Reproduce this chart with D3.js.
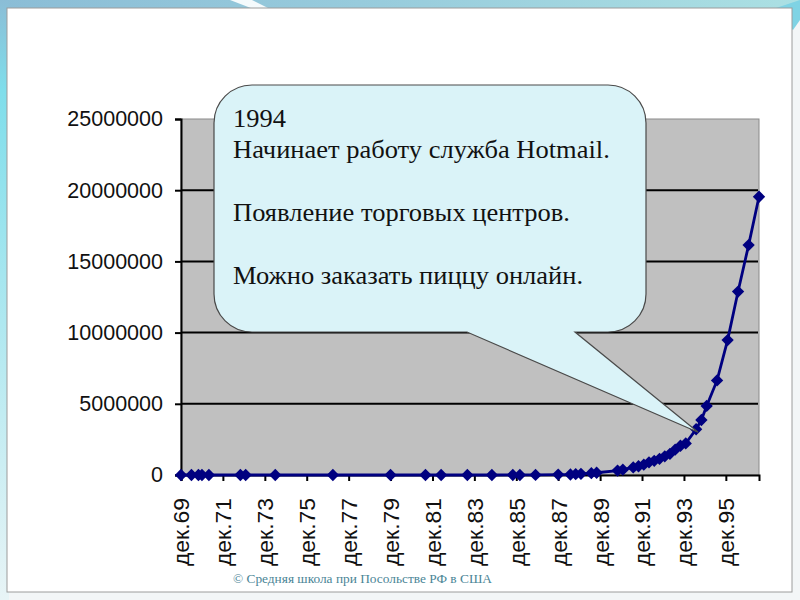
<!DOCTYPE html>
<html>
<head>
<meta charset="utf-8">
<script src="https://cdn.jsdelivr.net/npm/d3@7"></script>
<style>
  body { margin: 0; background: #f3f6f7; }
  svg { display: block; }
</style>
</head>
<body>
<svg width="800" height="600"></svg>
<script>
// Host count survey: month of survey and number of hosts
const months = ["1969-12", "1970-06", "1970-10", "1970-12", "1971-04", "1972-10", "1973-01",
  "1974-06", "1977-03", "1979-12", "1981-08", "1982-05", "1983-08", "1984-10", "1985-10",
  "1986-02", "1986-11", "1987-12", "1988-07", "1988-10", "1989-01", "1989-07", "1989-10",
  "1990-10", "1991-01", "1991-07", "1991-10", "1992-01", "1992-04", "1992-07", "1992-10",
  "1993-01", "1993-04", "1993-07", "1993-10", "1994-01", "1994-07", "1994-10", "1995-01",
  "1995-07", "1996-01", "1996-07", "1997-01", "1997-07"];
const hosts = [4, 9, 11, 13, 23, 31, 35,
  62, 111, 188, 213, 235, 562, 1024, 1961,
  2308, 5089, 28174, 33000, 56000, 80000, 130000, 159000,
  313000, 376000, 535000, 617000, 727000, 890000, 992000, 1136000,
  1313000, 1486000, 1776000, 2056000, 2217000, 3212000, 3864000, 4852000,
  6642000, 9472000, 12881000, 16146000, 19540000];

// axis ticks
const xTickLabels = ["дек.69", "дек.71", "дек.73", "дек.75", "дек.77", "дек.79", "дек.81",
  "дек.83", "дек.85", "дек.87", "дек.89", "дек.91", "дек.93", "дек.95"];
const yTicks = [0, 5000000, 10000000, 15000000, 20000000, 25000000];

// callout text
const calloutLines = ["1994", "Начинает работу служба Hotmail.", "",
  "Появление торговых центров.", "", "Можно заказать пиццу онлайн."];
const calloutAt = "1994-07";
const footer = "© Средняя школа при Посольстве РФ в США";

const parseMonth = d3.timeParse("%Y-%m");
const data = months.map((m, i) => ({ date: parseMonth(m), value: hosts[i] }));
const tickDates = xTickLabels.map(l => new Date(1900 + +l.slice(4), 11, 1));

const svg = d3.select("svg");

// ---- slide background ----
const defs = svg.append("defs");
const topGrad = defs.append("linearGradient").attr("id", "top-grad");
topGrad.append("stop").attr("offset", "0%").attr("stop-color", "#8bbdd6");
topGrad.append("stop").attr("offset", "45%").attr("stop-color", "#97cbdc");
topGrad.append("stop").attr("offset", "100%").attr("stop-color", "#abe0e3");
const leftGrad = defs.append("linearGradient").attr("id", "left-grad")
  .attr("x1", "0%").attr("y1", "0%").attr("x2", "0%").attr("y2", "100%");
leftGrad.append("stop").attr("offset", "0%").attr("stop-color", "#8bbdd6");
leftGrad.append("stop").attr("offset", "15%").attr("stop-color", "#7fdeeb");
leftGrad.append("stop").attr("offset", "100%").attr("stop-color", "#e8f4f6");

svg.append("rect").attr("width", 800).attr("height", 600).attr("fill", "#f3f6f7");
svg.append("rect").attr("width", 800).attr("height", 14).attr("fill", "url(#top-grad)");
svg.append("rect").attr("width", 9).attr("height", 600).attr("fill", "url(#left-grad)");
svg.append("polygon").attr("points", "230,0 252,0 272,10 256,10").attr("fill", "#ffffff").attr("opacity", 0.9);
svg.append("polygon").attr("points", "770,10 800,0 800,20 793,30").attr("fill", "#7fd3e4");

// white panel
svg.append("rect")
  .attr("x", 7).attr("y", 8).attr("width", 785).attr("height", 584)
  .attr("fill", "#ffffff").attr("stroke", "#9c9c9c").attr("stroke-width", 1);

// ---- chart ----
const plotLeft = 181, plotRight = 759, plotTop = 119, plotBottom = 475;

const x = d3.scaleTime()
  .domain([data[0].date, data[data.length - 1].date])
  .range([plotLeft, plotRight]);
const y = d3.scaleLinear()
  .domain([0, 25000000])
  .range([plotBottom, plotTop]);

// plot area
svg.append("rect")
  .attr("x", plotLeft).attr("y", plotTop)
  .attr("width", plotRight - plotLeft).attr("height", plotBottom - plotTop)
  .attr("fill", "#c0c0c0").attr("stroke", "#8a8a8a").attr("stroke-width", 1);

// gridlines
svg.append("g")
  .selectAll("line")
  .data(yTicks.filter(v => v > 0 && v < 25000000))
  .join("line")
  .attr("x1", plotLeft).attr("x2", plotRight - 1)
  .attr("y1", d => y(d)).attr("y2", d => y(d))
  .attr("stroke", "#000").attr("stroke-width", 2);

// y axis
const yAxis = svg.append("g")
  .attr("transform", `translate(${plotLeft},0)`)
  .call(d3.axisLeft(y).tickValues(yTicks).tickFormat(d3.format("d")).tickSizeOuter(0).tickSize(6).tickPadding(12));
yAxis.select(".domain").attr("stroke", "#000").attr("stroke-width", 2);
yAxis.selectAll(".tick line").attr("stroke", "#000").attr("stroke-width", 2);
yAxis.selectAll("text")
  .attr("font-family", "'Liberation Sans', Arial, sans-serif")
  .attr("font-size", 21.5).attr("fill", "#111");

// x axis
const xAxis = svg.append("g")
  .attr("transform", `translate(0,${plotBottom})`)
  .call(d3.axisBottom(x).tickValues(tickDates).tickFormat((d, i) => xTickLabels[i]).tickSizeOuter(0).tickSize(6));
xAxis.select(".domain").attr("stroke", "#000").attr("stroke-width", 2);
xAxis.selectAll(".tick line").attr("stroke", "#000").attr("stroke-width", 2);
xAxis.selectAll("text")
  .attr("font-family", "'Liberation Sans', Arial, sans-serif")
  .attr("font-size", 22).attr("fill", "#111")
  .attr("transform", "rotate(-90)")
  .attr("text-anchor", "end")
  .attr("textLength", 68)
  .attr("lengthAdjust", "spacingAndGlyphs")
  .attr("x", -23).attr("y", 0).attr("dy", "0.36em");

// series line
svg.append("path")
  .datum(data)
  .attr("fill", "none")
  .attr("stroke", "#000080")
  .attr("stroke-width", 2.8)
  .attr("d", d3.line().x(d => x(d.date)).y(d => y(d.value)));

// diamond markers
const diamond = d3.symbol(d3.symbolSquare, 76);
svg.append("g")
  .selectAll("path")
  .data(data)
  .join("path")
  .attr("d", diamond)
  .attr("transform", d => `translate(${x(d.date)},${y(d.value)}) rotate(45)`)
  .attr("fill", "#000080");

// ---- callout ----
const tipPoint = data.find(d => d3.timeFormat("%Y-%m")(d.date) === calloutAt);
const tx = x(tipPoint.date) + 2, ty = y(tipPoint.value) + 3;
const bx0 = 214, by0 = 85, bx1 = 646, by1 = 332, r = 38;
const tailA = 575, tailB = 467;
const callout = d3.path();
callout.moveTo(bx0 + r, by0);
callout.lineTo(bx1 - r, by0);
callout.arcTo(bx1, by0, bx1, by0 + r, r);
callout.lineTo(bx1, by1 - r);
callout.arcTo(bx1, by1, bx1 - r, by1, r);
callout.lineTo(tailA, by1);
callout.lineTo(tx, ty);
callout.lineTo(tailB, by1);
callout.lineTo(bx0 + r, by1);
callout.arcTo(bx0, by1, bx0, by1 - r, r);
callout.lineTo(bx0, by0 + r);
callout.arcTo(bx0, by0, bx0 + r, by0, r);
callout.closePath();

svg.append("path")
  .attr("d", callout.toString())
  .attr("fill", "#daf3f8")
  .attr("stroke", "#4a4a4a")
  .attr("stroke-width", 1.2);

// slide text is slightly stretched horizontally
svg.append("g")
  .attr("transform", "translate(233,0) scale(1.06,1)")
  .selectAll("text")
  .data(calloutLines)
  .join("text")
  .attr("x", 0)
  .attr("y", (d, i) => 127 + i * 31.5)
  .attr("font-family", "'Liberation Serif', 'Times New Roman', serif")
  .attr("font-size", 25)
  .attr("fill", "#111")
  .text(d => d);

// footer
svg.append("text")
  .attr("x", 233).attr("y", 583)
  .attr("font-family", "'Liberation Serif', 'Times New Roman', serif")
  .attr("font-size", 13)
  .attr("fill", "#4a8596")
  .attr("textLength", 259)
  .attr("lengthAdjust", "spacingAndGlyphs")
  .text(footer);
</script>
</body>
</html>
